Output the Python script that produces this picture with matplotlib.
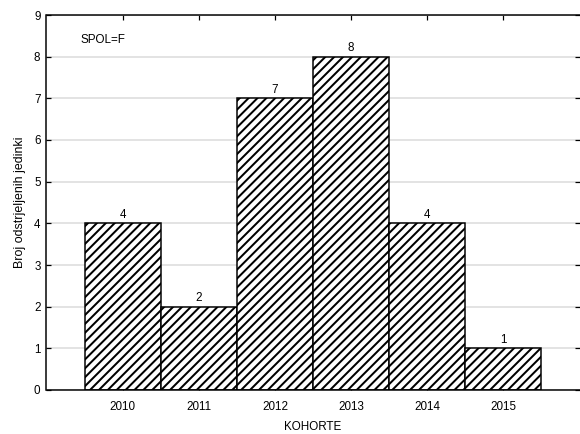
import matplotlib
matplotlib.use("Agg")
import matplotlib.pyplot as plt

years = [2010, 2011, 2012, 2013, 2014, 2015]
counts = [4, 2, 7, 8, 4, 1]
yticks = list(range(0, 10))

DPI = 80
FS = 10.5

plt.rcParams['font.family'] = ['Liberation Sans', 'DejaVu Sans']
plt.rcParams['hatch.linewidth'] = 1.8
plt.rcParams['hatch.color'] = '#555555'

fig = plt.figure(figsize=(580 / DPI, 434 / DPI), dpi=DPI)
ax = fig.add_axes([46.5 / 580, 44 / 434, (579.5 - 46.5) / 580, (390 - 15) / 434])

ax.set_axisbelow(True)
ax.yaxis.grid(True, color='#dcdcdc', linewidth=1.4)
ax.bar(years, counts, width=1.0, facecolor='white', edgecolor='black',
       linewidth=1.35, hatch='///')
for x, v in zip(years, counts):
    ax.annotate(str(v), (x, v), xytext=(0, 2.5), textcoords='offset points',
                ha='center', va='bottom', fontsize=FS)

ax.set_xlim(2009, 2016)
ax.set_ylim(0, 9)
ax.set_yticks(yticks)
ax.set_xticks(years)
ax.tick_params(axis='both', labelsize=FS, length=4.5, width=1.1, direction='in')
ax.tick_params(axis='x', top=True, pad=9.5)
ax.tick_params(axis='y', right=True, pad=5.4)
ax.text(2009.45, 8.4, 'SPOL=F', fontsize=FS, ha='left', va='center')
ax.set_xlabel('KOHORTE', fontsize=FS, labelpad=8)
ax.set_ylabel('Broj odstrjeljenih jedinki', fontsize=11.2, labelpad=7.5)
for s in ax.spines.values():
    s.set_linewidth(1.35)
ax.spines['right'].set_visible(False)

fig.savefig('out.png', dpi=DPI)
